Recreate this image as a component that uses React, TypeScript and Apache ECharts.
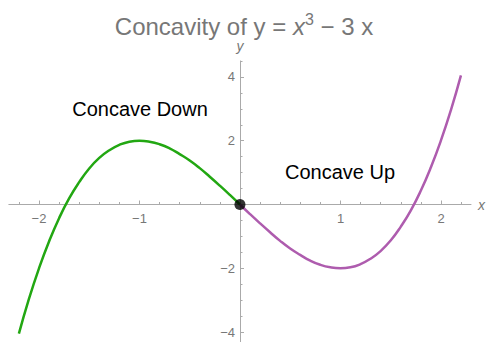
import React, { useEffect, useRef } from "react";
import * as echarts from "echarts";

// ---- data ----
const downX = [-2.2, -2.1, -2.0, -1.9, -1.8, -1.7, -1.6, -1.5, -1.4, -1.3, -1.2, -1.1, -1.0, -0.9, -0.8, -0.7, -0.6, -0.5, -0.4, -0.3, -0.2, -0.1, 0];
const downY = [-4.05, -2.96, -2.0, -1.16, -0.43, 0.19, 0.7, 1.13, 1.46, 1.7, 1.87, 1.97, 2.0, 1.97, 1.89, 1.76, 1.58, 1.38, 1.14, 0.87, 0.59, 0.3, 0];
const upX = [0, 0.1, 0.2, 0.3, 0.4, 0.5, 0.6, 0.7, 0.8, 0.9, 1.0, 1.1, 1.2, 1.3, 1.4, 1.5, 1.6, 1.7, 1.8, 1.9, 2.0, 2.1, 2.2];
const upY = [0, -0.3, -0.59, -0.87, -1.14, -1.38, -1.58, -1.76, -1.89, -1.97, -2.0, -1.97, -1.87, -1.7, -1.46, -1.13, -0.7, -0.19, 0.43, 1.16, 2.0, 2.96, 4.05];
const inflection = [[0, 0]];
const xMajorTicks = [-2, 2, 1];
const xMinorTicks = [-2.2, 2.2, 0.2];
const yMajorTicks = [-4, 4, 2];
const yMinorTicks = [-4, 4.5, 0.5];
const xRange = [-2.3, 2.3];
const yRange = [-4.3, 4.5];
const titleParts = ["Concavity of y = ", "x", "3", " − 3 x"];
const labelDown = "Concave Down";
const labelUp = "Concave Up";

const W = 488;
const H = 342;
const OX = 240;
const OY = 204.5;
const SX = 100.5;
const SY = 31.9;
const FONT = "'Liberation Sans', Arial, Helvetica, sans-serif";
const GRAY = "#777777";
const AXIS = "#aaaaaa";
const GREEN = "#22a712";
const PURPLE = "#ae5cae";

function gridFor(x0: number, x1: number, y0: number, y1: number) {
  return {
    left: OX + x0 * SX,
    right: W - (OX + x1 * SX),
    top: OY - y1 * SY,
    bottom: H - (OY - y0 * SY),
    containLabel: false,
  };
}

const fmt = (v: number) => {
  if (Math.abs(v) < 1e-9) return "";
  const r = Math.round(v * 1000) / 1000;
  return r < 0 ? "−" + String(Math.abs(r)) : String(r);
};

const pairs = (xs: number[], ys: number[]) => xs.map((x, i) => [x, ys[i]]);

export default function App() {
  const ref = useRef<HTMLDivElement>(null);
  useEffect(() => {
    if (!ref.current) return;
    const chart = echarts.init(ref.current, undefined, { renderer: "svg" });
    const hidden = (gi: number, lo: number, hi: number) => ({
      type: "value", gridIndex: gi, min: lo, max: hi, show: false, splitLine: { show: false },
    });
    const option: any = {
      animation: false,
      backgroundColor: "#ffffff",
      textStyle: { fontFamily: FONT },
      title: {
        text: `{a|${titleParts[0]}}{i|${titleParts[1]}}{s|${titleParts[2]}}{a|${titleParts[3]}}`,
        left: 239,
        top: 6,
        textAlign: "center",
        textStyle: {
          fontWeight: "normal",
          rich: {
            a: { fontSize: 24, color: GRAY, fontFamily: FONT, fontWeight: "normal", lineHeight: 30 },
            i: { fontSize: 24, color: GRAY, fontFamily: FONT, fontWeight: "normal", fontStyle: "italic", lineHeight: 30 },
            s: { fontSize: 16, color: GRAY, fontFamily: FONT, fontWeight: "normal", verticalAlign: "top", lineHeight: 20 },
          },
        },
      },
      grid: [
        gridFor(xRange[0], xRange[1], yRange[0], yRange[1]),
        gridFor(xMajorTicks[0], xMajorTicks[1], 0, yRange[1]),
        gridFor(xMinorTicks[0], xMinorTicks[1], 0, yRange[1]),
        gridFor(0, xRange[1], yMajorTicks[0], yMajorTicks[1]),
        gridFor(0, xRange[1], yMinorTicks[0], yMinorTicks[1]),
      ],
      xAxis: [
        {
          type: "value", gridIndex: 0, min: xRange[0], max: xRange[1],
          axisLine: { show: true, onZero: true, lineStyle: { color: AXIS, width: 1 } },
          axisTick: { show: false }, axisLabel: { show: false }, splitLine: { show: false },
          name: "x", nameLocation: "end", nameGap: 7,
          nameTextStyle: { color: GRAY, fontStyle: "italic", fontSize: 14, fontFamily: FONT },
        },
        {
          type: "value", gridIndex: 1, position: "bottom", min: xMajorTicks[0], max: xMajorTicks[1], interval: xMajorTicks[2],
          axisLine: { show: false, onZero: false },
          axisTick: { show: true, inside: true, length: 4, lineStyle: { color: AXIS } },
          axisLabel: { show: true, margin: 7, color: GRAY, fontSize: 13, fontFamily: FONT, formatter: fmt },
          splitLine: { show: false },
        },
        {
          type: "value", gridIndex: 2, position: "bottom", min: xMinorTicks[0], max: xMinorTicks[1], interval: xMinorTicks[2],
          axisLine: { show: false, onZero: false },
          axisTick: { show: true, inside: true, length: 2.5, lineStyle: { color: AXIS } },
          axisLabel: { show: false }, splitLine: { show: false },
        },
        hidden(3, 0, xRange[1]),
        hidden(4, 0, xRange[1]),
      ],
      yAxis: [
        {
          type: "value", gridIndex: 0, min: yRange[0], max: yRange[1],
          axisLine: { show: true, onZero: true, lineStyle: { color: AXIS, width: 1 } },
          axisTick: { show: false }, axisLabel: { show: false }, splitLine: { show: false },
          name: "y", nameLocation: "end", nameGap: 8,
          nameTextStyle: { color: GRAY, fontStyle: "italic", fontSize: 14, fontFamily: FONT, align: "center" },
        },
        hidden(1, 0, yRange[1]),
        hidden(2, 0, yRange[1]),
        {
          type: "value", gridIndex: 3, position: "left", min: yMajorTicks[0], max: yMajorTicks[1], interval: yMajorTicks[2],
          axisLine: { show: false, onZero: false },
          axisTick: { show: true, inside: true, length: 4, lineStyle: { color: AXIS } },
          axisLabel: { show: true, margin: 5, color: GRAY, fontSize: 13, fontFamily: FONT, formatter: fmt },
          splitLine: { show: false },
        },
        {
          type: "value", gridIndex: 4, position: "left", min: yMinorTicks[0], max: yMinorTicks[1], interval: yMinorTicks[2],
          axisLine: { show: false, onZero: false },
          axisTick: { show: true, inside: true, length: 2.5, lineStyle: { color: AXIS } },
          axisLabel: { show: false }, splitLine: { show: false },
        },
      ],
      series: [
        {
          type: "line", xAxisIndex: 0, yAxisIndex: 0, data: pairs(downX, downY),
          showSymbol: false, smooth: true, lineStyle: { color: GREEN, width: 2.5 }, z: 3,
        },
        {
          type: "line", xAxisIndex: 0, yAxisIndex: 0, data: pairs(upX, upY),
          showSymbol: false, smooth: true, lineStyle: { color: PURPLE, width: 2.5 }, z: 3,
        },
        {
          type: "scatter", xAxisIndex: 0, yAxisIndex: 0, data: inflection,
          symbolSize: 11, itemStyle: { color: "#000000" }, z: 5,
        },
      ],
      graphic: [
        {
          type: "text", x: 140, y: 109,
          style: { text: labelDown, fill: "#000000", font: `20px ${FONT}`, align: "center", verticalAlign: "middle" },
        },
        {
          type: "text", x: 340, y: 172,
          style: { text: labelUp, fill: "#000000", font: `20px ${FONT}`, align: "center", verticalAlign: "middle" },
        },
      ],
    };
    chart.setOption(option);
    return () => chart.dispose();
  }, []);
  return <div ref={ref} style={{ position: "fixed", left: 0, top: 0, width: W, height: H }} />;
}
